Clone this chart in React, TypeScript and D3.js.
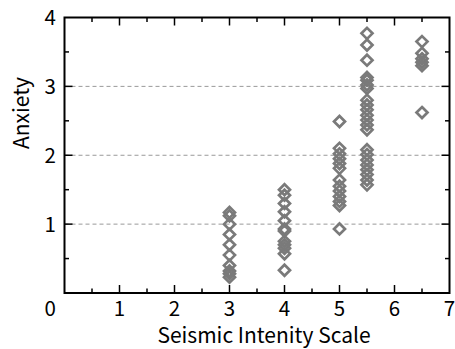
import React from "react";
import * as d3 from "d3";

const xTickValues = [1, 2, 3, 4, 5, 6, 7];
const yTickValues = [1, 2, 3, 4];
const gridValues = [1, 2, 3];

const int3 = [1.17, 1.12, 1.0, 0.85, 0.7, 0.55, 0.4, 0.32, 0.28, 0.23];
const int4 = [1.5, 1.42, 1.3, 1.18, 1.05, 0.93, 0.9, 0.75, 0.7, 0.65, 0.57, 0.33];
const int5 = [2.49, 2.1, 2.02, 1.95, 1.88, 1.81, 1.64, 1.55, 1.48, 1.4, 1.33, 1.27, 0.93];
const int55 = [3.77, 3.6, 3.38, 3.13, 3.09, 3.02, 2.97, 2.8, 2.73, 2.66, 2.58, 2.51, 2.44, 2.37, 2.08, 2.01, 1.93, 1.86, 1.79, 1.72, 1.64, 1.57];
const int65 = [3.65, 3.48, 3.4, 3.35, 3.3, 2.62];

const groups: [number, number[]][] = [
  [3, int3],
  [4, int4],
  [5, int5],
  [5.5, int55],
  [6.5, int65],
];

const W = 455;
const H = 349;
const font = "'Noto Sans CJK JP', 'Noto Sans', sans-serif";

export default function App() {
  const x = d3.scaleLinear().domain([0, 7]).range([64.5, 449.5]);
  const y = d3.scaleLinear().domain([0, 4]).range([293, 17.5]);
  const [x0, x1] = x.range();
  const [y0, y1] = y.range();

  const xMinor = d3.range(0.5, 7, 0.5);
  const yMinor = d3.range(0.5, 4, 0.5);
  const isMajor = (v: number) => Math.abs(v - Math.round(v)) < 1e-9;

  const points: { cx: number; cy: number }[] = [];
  groups.forEach(([gx, vals]) => vals.forEach((v) => points.push({ cx: x(gx), cy: y(v) })));

  const r = 5.5;
  const diamond = (cx: number, cy: number) =>
    `M${cx},${cy - r}L${cx + r},${cy}L${cx},${cy + r}L${cx - r},${cy}Z`;

  return (
    <svg width={W} height={H} style={{ position: "absolute", left: 0, top: 0, background: "#fff" }}>
      {gridValues.map((v) => (
        <line key={"g" + v} x1={x0} x2={x1} y1={y(v)} y2={y(v)} stroke="#999" strokeWidth={1} strokeDasharray="4,3" />
      ))}
      {points.map((p, i) => (
        <path key={i} d={diamond(p.cx, p.cy)} fill="none" stroke="#7a7a7a" strokeWidth={2.7} />
      ))}
      <rect x={x0} y={y1} width={x1 - x0} height={y0 - y1} fill="none" stroke="#000" strokeWidth={2} />
      {xMinor.map((v) => {
        const L = isMajor(v) ? 8 : 4.5;
        return (
          <g key={"xt" + v}>
            <line x1={x(v)} x2={x(v)} y1={y0} y2={y0 - L} stroke="#000" strokeWidth={1.5} />
            <line x1={x(v)} x2={x(v)} y1={y1} y2={y1 + L} stroke="#000" strokeWidth={1.5} />
          </g>
        );
      })}
      {yMinor.map((v) => {
        const L = isMajor(v) ? 8 : 4.5;
        return (
          <g key={"yt" + v}>
            <line x1={x0} x2={x0 + L} y1={y(v)} y2={y(v)} stroke="#000" strokeWidth={1.5} />
            <line x1={x1} x2={x1 - L} y1={y(v)} y2={y(v)} stroke="#000" strokeWidth={1.5} />
          </g>
        );
      })}
      {xTickValues.map((v) => (
        <text key={"xl" + v} x={x(v)} y={316} textAnchor="middle" fontFamily={font} fontSize={20.5} fill="#000">
          {v}
        </text>
      ))}
      {yTickValues.map((v) => (
        <text key={"yl" + v} x={56} y={y(v) + 7.5} textAnchor="end" fontFamily={font} fontSize={20.5} fill="#000">
          {v}
        </text>
      ))}
      <text x={56} y={316} textAnchor="end" fontFamily={font} fontSize={20.5} fill="#000">0</text>
      <text x={264} y={343} textAnchor="middle" fontFamily={font} fontSize={21} fill="#000">
        Seismic Intenity Scale
      </text>
      <text transform="translate(29,113) rotate(-90)" textAnchor="middle" fontFamily={font} fontSize={21} fill="#000">
        Anxiety
      </text>
    </svg>
  );
}
